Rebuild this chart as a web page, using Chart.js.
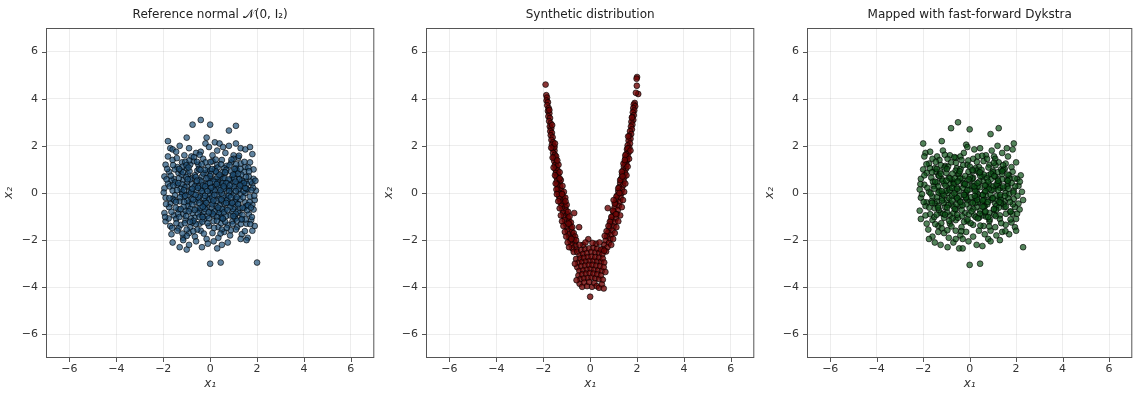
<!DOCTYPE html>
<html>
<head>
<meta charset="utf-8">
<script src="https://cdn.jsdelivr.net/npm/chart.js@4.4.1/dist/chart.umd.min.js"></script>
<style>
  body { margin: 0; background: #fff; width: 1136px; height: 393px; overflow: hidden; position: relative; }
  canvas { position: absolute; top: 0; }
</style>
</head>
<body>
<canvas id="c1" width="378" height="393" style="left:0px"></canvas>
<canvas id="c2" width="378" height="393" style="left:380px"></canvas>
<canvas id="c3" width="375" height="393" style="left:761px"></canvas>
<script>
// axis ticks shared by all three panels
const tickValues = [-6, -4, -2, 0, 2, 4, 6];
const axisMin = -7, axisMax = 7;

const panelTitles = [
  "Reference normal \u{1D4A9}(0, I\u2082)",
  "Synthetic distribution",
  "Mapped with fast-forward Dykstra"
];

// samples, [x1, x2]
const refPoints = [
  [-0.4,3.1],[-0.75,2.9],[0,2.9],[1.1,2.85],[0.8,2.65],[-0.15,2.35],[-1.0,2.35],[-1.8,2.2],[1.1,2.1],
  [-1.7,1.9],[-1.6,1.85],[-1.3,2.0],[-0.9,1.9],[-0.6,1.7],[-0.4,1.75],[-0.2,2.1],[0.2,2.15],[0.4,2.1],[0.55,1.95],
  [0.8,2.0],[1.0,1.6],[1.3,1.9],[1.5,1.85],[1.7,1.95],[1.8,1.65],[-1.1,1.6],[-0.8,1.55],[0.1,1.6],[0.3,1.8],
  [0.65,1.7],[-1.8,1.55],[1.2,1.5],[-0.05,1.95],[-1.45,1.75],
  [-1.9,1.2],[-1.6,1.4],[-1.4,1.1],[-1.2,1.3],[-1.0,1.05],[-0.7,1.35],[-0.5,1.2],[-0.3,1.45],[-0.1,1.1],[0.1,1.35],
  [0.3,1.2],[0.5,1.4],[0.7,1.15],[0.9,1.3],[1.1,1.05],[1.3,1.25],[1.5,1.1],[1.7,1.3],[1.85,1.0],[-0.85,1.2],
  [0.2,1.0],[0.6,1.05],[1.0,1.45],[-1.5,1.0],[-0.2,1.3],
  [-1.95,0.7],[-1.75,0.9],[-1.55,0.6],[-1.35,0.85],[-1.15,0.55],[-0.95,0.8],[-0.75,0.65],[-0.55,0.95],[-0.35,0.7],
  [-0.15,0.85],[0.05,0.6],[0.25,0.9],[0.45,0.7],[0.65,0.85],[0.85,0.55],[1.05,0.8],[1.25,0.6],[1.45,0.9],[1.65,0.7],
  [1.85,0.6],[-1.25,0.95],[-0.45,0.55],[0.35,0.5],[1.15,0.95],[-0.65,0.75],[0.55,0.6],[1.5,0.5],[-1.65,0.55],[0.0,0.95],[0.95,0.7],
  [-1.95,0.2],[-1.8,0.4],[-1.6,0.1],[-1.4,0.35],[-1.2,0.05],[-1.0,0.3],[-0.8,0.15],[-0.6,0.45],[-0.4,0.2],[-0.2,0.4],
  [0.0,0.1],[0.2,0.3],[0.4,0.05],[0.6,0.35],[0.8,0.2],[1.0,0.45],[1.2,0.1],[1.4,0.3],[1.6,0.15],[1.8,0.4],[1.95,0.1],
  [-1.5,0.45],[-0.9,0.05],[-0.3,0.0],[0.3,0.45],[0.9,0.0],[1.5,0.0],[-1.1,0.25],[0.1,0.25],[0.7,0.1],[-0.5,0.3],[1.3,0.4],
  [-1.9,-0.2],[-1.7,-0.45],[-1.5,-0.1],[-1.3,-0.35],[-1.1,-0.15],[-0.9,-0.4],[-0.7,-0.05],[-0.5,-0.3],[-0.3,-0.45],
  [-0.1,-0.2],[0.1,-0.4],[0.3,-0.1],[0.5,-0.35],[0.7,-0.2],[0.9,-0.45],[1.1,-0.25],[1.3,-0.05],[1.5,-0.4],[1.7,-0.15],
  [1.9,-0.3],[-1.6,-0.25],[-0.8,-0.25],[0.0,-0.05],[0.6,-0.45],[1.2,-0.45],[-0.2,-0.35],[0.4,-0.25],[1.0,-0.1],[-1.2,-0.05],[1.8,-0.5],
  [-1.95,-0.85],[-1.75,-0.6],[-1.55,-0.95],[-1.35,-0.7],[-1.15,-0.9],[-0.95,-0.55],[-0.75,-0.85],[-0.55,-0.65],[-0.35,-0.95],
  [-0.15,-0.6],[0.05,-0.8],[0.25,-0.55],[0.45,-0.9],[0.65,-0.7],[0.85,-0.95],[1.05,-0.6],[1.25,-0.85],[1.45,-0.65],
  [1.65,-0.9],[1.85,-0.7],[-1.05,-0.75],[-0.45,-0.75],[0.35,-0.7],[0.95,-0.8],[1.55,-0.55],[-1.65,-0.8],[0.15,-0.95],[-0.25,-0.8],
  [-1.9,-1.2],[-1.7,-1.4],[-1.45,-1.1],[-1.25,-1.35],[-1.05,-1.15],[-0.85,-1.45],[-0.65,-1.05],[-0.45,-1.3],[-0.25,-1.1],
  [-0.05,-1.4],[0.15,-1.2],[0.35,-1.45],[0.55,-1.1],[0.75,-1.35],[0.95,-1.2],[1.15,-1.45],[1.35,-1.1],[1.55,-1.3],
  [1.75,-1.15],[1.9,-1.4],[-1.35,-1.5],[0.45,-1.05],[1.05,-1.0],[-0.75,-1.25],
  [-1.65,-1.75],[-1.4,-1.6],[-1.15,-1.9],[-0.9,-1.7],[-0.65,-1.85],[-0.4,-1.6],[-0.15,-1.95],[0.1,-1.7],[0.35,-1.9],
  [0.6,-1.65],[0.85,-1.8],[1.1,-1.55],[1.35,-1.75],[1.6,-1.9],[1.8,-1.6],[-0.55,-1.55],[0.5,-1.55],[-1.0,-1.55],
  [-1.6,-2.1],[-1.3,-2.3],[-1.0,-2.4],[-0.9,-2.2],[-0.6,-2.05],[-0.35,-2.3],[-0.1,-2.15],[0.15,-2.05],[0.5,-2.2],
  [0.75,-2.1],[1.3,-1.95],[1.55,-2.0],[-1.15,-2.0],[0.3,-2.35],
  [0,-3.0],[0.45,-2.95],[2.0,-2.95]
];

// extra samples filling the dense middle of the cloud
const refCore = [
  [-1.72,0.28],[-1.47,-0.62],[-1.33,0.63],[-1.28,-0.18],[-1.17,1.12],[-1.08,-1.28],[-0.97,0.47],[-0.93,-0.08],
  [-0.88,0.92],[-0.84,-0.67],[-0.78,0.38],[-0.72,-1.62],[-0.69,1.52],[-0.63,-0.38],[-0.58,0.12],[-0.52,-0.87],
  [-0.48,1.02],[-0.43,-0.13],[-0.38,0.48],[-0.33,-1.22],[-0.29,0.83],[-0.24,-0.52],[-0.19,0.18],[-0.13,-0.98],
  [-0.08,0.63],[-0.03,-0.28],[0.02,1.32],[0.07,-0.63],[0.12,0.08],[0.17,-1.48],[0.22,0.58],[0.27,-0.33],[0.32,1.08],
  [0.38,-0.83],[0.42,0.33],[0.47,-1.28],[0.52,0.88],[0.57,-0.13],[0.62,0.62],[0.68,-0.98],[0.73,0.42],[0.78,-0.43],
  [0.83,1.18],[0.88,-1.58],[0.93,0.18],[0.98,-0.68],[1.03,0.62],[1.08,-1.08],[1.13,0.38],[1.18,-0.78],[1.23,1.58],
  [1.28,-0.28],[1.33,0.78],[1.38,-0.93],[1.43,0.08],[1.48,-1.62],[1.53,0.68],[1.58,-0.73],[1.63,1.08],[1.68,-0.38],
  [1.73,0.48],[1.78,-1.02],[1.83,0.22],[1.88,-0.12],[1.93,0.52],[-1.88,-0.47],[-1.83,1.02],[-1.77,-1.08],[-1.68,0.73],
  [-1.62,-1.48],[-1.57,0.32],[-1.52,-0.32],[-1.42,1.48],[-1.37,-0.88],[-1.22,0.38],[-1.13,-0.58],[-1.03,0.68],
  [-1.0,-1.82],[-0.9,1.38],[-0.82,-1.08],[-0.66,0.28],[-0.61,-1.32],[-0.45,1.62],[-0.41,-0.62],[-0.36,0.08],
  [-0.27,-1.72],[-0.22,0.98],[-0.17,-0.42],[-0.11,0.38],[-0.06,-1.08],[0.04,0.82],[0.09,-0.18],[0.14,0.48],
  [0.19,-0.78],[0.24,1.42],[0.29,-1.02],[0.36,0.22],[0.41,-0.53],[0.46,1.22],[0.51,-0.68],[0.58,0.18],[0.64,-1.22],
  [0.69,0.98],[0.74,-0.28],[0.79,0.58],[0.86,-0.58],[0.91,1.42],[0.96,-1.32],[1.01,0.28],[1.06,-0.38],[1.11,1.22],
  [1.16,-1.18],[1.21,0.18],[1.26,-0.63],[1.36,0.52],[1.41,-0.18],[1.46,1.32],[1.51,-1.12],[1.56,0.38],[1.61,-0.52],
  [1.66,0.92],[1.71,-1.32],[1.76,0.12],[-1.98,0.02],[-1.92,-1.02],[-1.86,0.58],[-1.74,-0.22],[-1.58,1.18],
  [-1.44,-1.28],[-1.26,0.18],[-1.18,-1.72],[-1.06,1.32],[-0.98,-0.32],[-0.86,0.58],[-0.76,-0.48],[-0.56,1.32],
  [-0.46,-1.02],[-0.31,0.32],[-0.21,-0.68],[-0.01,0.42],[0.11,-0.88],[0.31,0.68],[0.44,-1.72],[0.54,0.42],
  [0.71,-1.48],[0.81,0.08],[1.09,-0.88],[1.19,0.82],[1.31,-1.32],[1.54,0.18],[1.74,-0.62],
  [-1.41,0.12],[-1.31,-1.02],[-1.21,0.78],[-1.11,-0.38],[-1.01,1.18],[-0.91,-0.78],[-0.81,0.02],[-0.71,-1.18],
  [-0.61,0.68],[-0.51,-0.18],[-0.41,0.98],[-0.31,-0.58],[-0.21,0.28],[-0.11,-1.28],[-0.01,0.72],[0.09,-0.48],
  [0.19,0.12],[0.29,-1.18],[0.39,0.78],[0.49,-0.02],[0.59,-0.82],[0.69,0.42],[0.79,-0.12],[0.89,0.92],[0.99,-0.98],
  [1.09,0.08],[1.19,-0.48],[1.29,1.02],[1.39,-0.62],[1.49,0.22],[-1.46,-0.38],[-1.36,0.42],[-1.26,-0.68],
  [-1.16,0.88],[-1.06,-0.12],[-0.96,0.58],[-0.86,-1.22],[-0.76,0.18],[-0.66,-0.72],[-0.56,0.52],[-0.46,-0.42],
  [-0.36,1.22],[-0.26,-0.22],[-0.16,0.62],[-0.06,-0.82],[0.04,0.22],[0.14,-0.32],[0.24,0.92],[0.34,-0.62],
  [0.44,0.12],[0.54,-1.08],[0.64,0.88],[0.74,-0.72],[0.84,0.32],[0.94,-0.42],[1.04,1.02],[1.14,-0.18],[1.24,0.58],
  [1.34,-1.12],[1.44,0.42],[-1.32,1.02],[-1.12,0.12],[-0.92,1.08],[-0.72,-0.28],[-0.52,0.22],[-0.32,-1.02],
  [-0.12,0.08],[0.08,1.02],[0.28,0.38],[0.48,-0.28],[0.68,-0.42],[0.88,-0.18],[1.08,0.48],[1.28,0.32],[-0.62,-0.08],
  [-0.22,-0.12],[0.18,-0.08],[0.58,0.28],[-1.02,-0.98],[0.98,0.78]
];

const synthPoints = [
  // left arm
  [-1.9,4.6],[-1.87,4.15],[-1.84,4.05],[-1.86,3.92],[-1.8,3.85],[-1.83,3.72],[-1.77,3.6],[-1.8,3.48],[-1.74,3.38],
  [-1.78,3.25],[-1.71,3.18],[-1.75,3.05],[-1.68,2.95],[-1.72,2.82],[-1.66,2.74],[-1.7,2.62],[-1.63,2.55],[-1.68,2.45],
  [-1.6,2.36],[-1.65,2.25],[-1.58,2.15],[-1.63,2.05],[-1.55,1.98],[-1.6,1.88],[-1.52,1.8],[-1.58,1.7],[-1.5,1.62],
  [-1.55,1.52],[-1.46,1.45],[-1.53,1.35],[-1.44,1.28],[-1.5,1.18],[-1.42,1.1],[-1.48,1.0],[-1.38,0.95],[-1.46,0.85],
  [-1.36,0.78],[-1.44,0.68],[-1.33,0.6],[-1.42,0.5],[-1.3,0.45],[-1.4,0.35],[-1.28,0.28],[-1.38,0.18],[-1.24,0.12],
  [-1.36,0.02],[-1.2,-0.02],[-1.33,-0.12],[-1.16,-0.15],[-1.3,-0.25],[-1.14,-0.3],[-1.26,-0.4],[-1.1,-0.45],
  [-1.22,-0.55],[-1.06,-0.6],[-1.18,-0.7],[-1.02,-0.75],[-1.15,-0.85],[-0.98,-0.9],[-1.12,-1.0],[-0.95,-1.05],
  [-1.08,-1.15],[-0.9,-1.2],[-1.04,-1.3],[-0.86,-1.35],[-1.0,-1.45],[-0.82,-1.5],[-0.96,-1.6],[-0.78,-1.65],
  [-0.92,-1.75],[-0.74,-1.8],[-0.88,-1.9],[-0.7,-1.95],[-0.84,-2.05],[-0.66,-2.1],[-0.8,-2.2],[-0.62,-2.25],
  [-0.76,-2.35],[-0.58,-2.4],[-0.7,-2.5],
  [-1.52,1.95],[-1.66,1.92],[-1.45,1.55],[-1.6,1.5],[-1.35,1.2],[-1.56,1.08],[-1.3,0.88],[-1.5,0.75],[-1.25,0.55],
  [-1.47,0.4],[-1.18,0.3],[-1.44,0.15],[-1.12,0.05],[-1.42,-0.05],[-1.06,-0.2],[-1.36,-0.35],[-1.0,-0.5],[-1.3,-0.65],
  [-0.94,-0.8],[-1.25,-0.95],[-0.88,-1.0],[-1.2,-1.2],[-0.82,-1.25],[-1.14,-1.4],[-0.76,-1.45],[-1.08,-1.65],
  [-0.7,-1.7],[-1.02,-1.85],[-0.64,-1.85],[-0.96,-2.1],[-0.6,-2.0],[-0.9,-2.3],[-1.2,-0.05],[-1.3,0.62],[-1.4,1.38],
  [-1.5,2.1],[-1.62,2.88],[-1.74,3.52],[-1.05,-0.35],[-0.92,-1.3],[-0.8,-1.95],
  // right arm
  [2.0,4.92],[1.98,4.85],[1.99,4.55],[2.05,4.2],[1.95,4.25],[1.9,3.82],[1.86,3.75],[1.92,3.68],[1.84,3.6],[1.88,3.5],
  [1.82,3.42],[1.86,3.3],[1.8,3.22],[1.84,3.1],[1.76,3.02],[1.8,2.9],[1.74,2.82],[1.78,2.7],[1.7,2.62],[1.75,2.5],
  [1.67,2.42],[1.72,2.3],[1.64,2.22],[1.7,2.1],[1.6,2.02],[1.67,1.92],[1.57,1.85],[1.64,1.72],[1.54,1.65],[1.6,1.55],
  [1.51,1.48],[1.57,1.38],[1.48,1.3],[1.55,1.2],[1.44,1.12],[1.52,1.02],[1.4,0.95],[1.49,0.85],[1.36,0.78],[1.46,0.68],
  [1.32,0.6],[1.43,0.5],[1.28,0.42],[1.4,0.32],[1.24,0.25],[1.36,0.15],[1.2,0.08],[1.33,-0.02],[1.16,-0.1],[1.3,-0.2],
  [1.12,-0.28],[1.26,-0.38],[1.08,-0.45],[1.22,-0.55],[1.04,-0.62],[1.18,-0.72],[1.0,-0.8],[1.14,-0.9],[0.95,-0.98],
  [1.1,-1.08],[0.9,-1.15],[1.05,-1.25],[0.86,-1.32],[1.0,-1.42],[0.82,-1.5],[0.95,-1.6],[0.77,-1.68],[0.9,-1.78],
  [0.72,-1.85],[0.86,-1.95],[0.66,-2.02],[0.8,-2.12],[0.6,-2.2],[0.74,-2.3],[0.54,-2.38],[0.68,-2.48],
  [1.6,1.9],[1.72,1.8],[1.5,1.6],[1.66,1.45],[1.42,1.25],[1.6,1.12],[1.35,0.9],[1.55,0.75],[1.28,0.55],[1.5,0.4],
  [1.2,0.2],[1.45,0.05],[1.12,-0.15],[1.4,-0.3],[1.05,-0.45],[1.35,-0.6],[0.97,-0.75],[1.28,-0.95],[0.9,-1.02],
  [1.2,-1.2],[0.84,-1.22],[1.12,-1.45],[0.78,-1.4],[1.05,-1.7],[0.7,-1.62],[0.98,-1.95],[0.62,-1.82],[0.9,-2.2],
  [1.25,0.0],[1.38,0.7],[1.48,1.4],[1.62,2.4],[1.78,3.2],[0.75,-0.64],[1.0,-0.3],[1.1,-0.9],
  // bottom of the V
  [-0.55,-2.5],[-0.45,-2.65],[-0.38,-2.42],[-0.3,-2.58],[-0.22,-2.38],[-0.14,-2.55],[-0.05,-2.35],[0.05,-2.5],
  [0.14,-2.32],[0.22,-2.52],[0.3,-2.36],[0.38,-2.55],[0.46,-2.4],[0.52,-2.6],[0.6,-2.45],
  [-0.6,-2.8],[-0.5,-2.95],[-0.42,-2.78],[-0.34,-2.92],[-0.26,-2.75],[-0.18,-2.9],[-0.1,-2.72],[-0.02,-2.88],
  [0.06,-2.7],[0.14,-2.88],[0.22,-2.72],[0.3,-2.9],[0.38,-2.74],[0.46,-2.92],[0.54,-2.78],[0.6,-2.95],
  [-0.55,-3.15],[-0.46,-3.3],[-0.38,-3.1],[-0.3,-3.28],[-0.22,-3.08],[-0.14,-3.25],[-0.06,-3.05],[0.02,-3.22],
  [0.1,-3.05],[0.18,-3.25],[0.26,-3.08],[0.34,-3.28],[0.42,-3.1],[0.5,-3.3],[0.58,-3.15],
  [-0.5,-3.5],[-0.42,-3.65],[-0.34,-3.45],[-0.26,-3.62],[-0.18,-3.42],[-0.1,-3.6],[-0.02,-3.4],[0.06,-3.58],
  [0.14,-3.42],[0.22,-3.62],[0.3,-3.45],[0.38,-3.65],[0.46,-3.5],[0.54,-3.68],
  [-0.45,-3.85],[-0.34,-3.98],[-0.25,-3.8],[-0.13,-3.95],[-0.04,-3.78],[0.08,-3.98],[0.18,-3.82],[0.28,-3.95],
  [0.38,-4.02],[0.5,-3.88],
  [0.0,-4.4],[-0.47,-1.45],[-0.08,-1.96],[-0.68,-0.85],[-0.3,-2.2],[0.25,-2.15],[0.4,-2.1],[-0.45,-2.2],
  [-0.65,-3.0],[0.65,-3.35],[-0.58,-3.7],[0.58,-4.05],[-0.2,-2.1],[0.1,-2.12]
];

const mappedPoints = [
  [-0.5,3.0],[-0.8,2.75],[0,2.7],[1.25,2.75],[0.9,2.5],[-0.15,2.05],[-1.2,2.2],[-2.0,2.1],[1.9,2.1],[-0.1,1.95],
  [-1.9,1.7],[1.6,1.9],
  [-1.7,1.75],[-1.4,1.55],[-1.15,1.8],[-0.85,1.6],[-0.6,1.5],[-0.4,1.55],[0.2,1.85],[0.45,1.9],[0.7,1.6],[0.95,1.8],
  [1.2,2.0],[1.4,1.7],[1.85,1.85],[1.05,1.55],[0.35,1.55],[-0.25,1.7],[1.65,1.55],[-1.95,1.55],
  [-2.0,1.0],[-1.75,1.25],[-1.5,1.05],[-1.3,1.4],[-1.05,1.15],[-0.8,1.3],[-0.55,1.05],[-0.35,1.4],[-0.1,1.2],
  [0.15,1.45],[0.4,1.1],[0.6,1.35],[0.85,1.2],[1.1,1.45],[1.35,1.0],[1.55,1.25],[1.8,1.1],[2.0,1.3],[-0.95,1.45],
  [0.25,1.05],[0.75,1.45],[1.25,1.3],[-1.6,1.45],
  [-2.1,0.6],[-1.85,0.85],[-1.65,0.65],[-1.45,0.9],[-1.2,0.6],[-1.0,0.85],[-0.75,0.55],[-0.5,0.8],[-0.3,0.6],
  [-0.05,0.9],[0.15,0.65],[0.4,0.85],[0.6,0.5],[0.8,0.75],[1.0,0.95],[1.2,0.6],[1.4,0.8],[1.6,0.55],[1.85,0.9],
  [2.05,0.6],[2.2,0.75],[-0.9,0.65],[0.3,0.95],[1.1,0.7],[-1.35,0.75],[0.0,0.55],[0.55,0.7],[1.7,0.75],[-0.6,0.95],
  [-2.15,0.15],[-1.95,0.35],[-1.75,0.05],[-1.55,0.3],[-1.3,0.1],[-1.1,0.4],[-0.9,0.2],[-0.7,0.45],[-0.45,0.1],
  [-0.25,0.35],[0.0,0.15],[0.2,0.4],[0.45,0.25],[0.65,0.05],[0.85,0.35],[1.05,0.15],[1.25,0.45],[1.45,0.2],
  [1.65,0.4],[1.9,0.1],[2.1,0.3],[2.25,0.05],[-1.4,0.45],[-0.55,0.25],[0.3,0.05],[1.15,0.3],[-0.15,0.0],[0.75,0.2],
  [1.55,0.0],[-0.95,0.0],[0.1,0.3],
  [-2.1,-0.2],[-1.85,-0.4],[-1.6,-0.15],[-1.4,-0.35],[-1.2,-0.05],[-1.0,-0.3],[-0.8,-0.45],[-0.6,-0.15],[-0.4,-0.35],
  [-0.2,-0.1],[0.05,-0.4],[0.25,-0.2],[0.5,-0.45],[0.7,-0.1],[0.9,-0.3],[1.1,-0.45],[1.3,-0.15],[1.5,-0.35],
  [1.7,-0.05],[1.9,-0.25],[2.1,-0.45],[2.3,-0.3],[-0.5,-0.3],[0.35,-0.05],[1.2,-0.3],[-1.5,-0.45],[0.6,-0.3],[-0.1,-0.3],
  [-2.15,-0.75],[-1.9,-0.55],[-1.7,-0.9],[-1.5,-0.65],[-1.25,-0.85],[-1.05,-0.6],[-0.85,-0.95],[-0.6,-0.7],
  [-0.4,-0.55],[-0.2,-0.85],[0.0,-0.65],[0.2,-0.95],[0.45,-0.75],[0.65,-0.55],[0.85,-0.85],[1.05,-0.7],[1.3,-0.95],
  [1.5,-0.6],[1.75,-0.8],[1.95,-0.6],[2.15,-0.7],[-0.7,-0.85],[0.3,-0.6],[1.15,-0.55],[-1.35,-0.55],[0.55,-0.95],
  [-2.1,-1.1],[-1.85,-1.3],[-1.6,-1.15],[-1.35,-1.4],[-1.1,-1.05],[-0.85,-1.3],[-0.6,-1.15],[-0.35,-1.45],
  [-0.1,-1.2],[0.15,-1.35],[0.4,-1.05],[0.6,-1.4],[0.85,-1.2],[1.1,-1.45],[1.3,-1.1],[1.55,-1.35],[1.8,-1.25],
  [2.0,-1.1],[-0.5,-1.05],[0.7,-1.0],[1.95,-1.45],[-1.2,-1.5],
  [-1.6,-1.85],[-1.35,-1.65],[-1.1,-1.7],[-0.9,-1.9],[-0.6,-1.6],[-0.4,-1.8],[-0.15,-1.65],[0.15,-1.85],[0.4,-1.6],
  [0.65,-1.75],[0.9,-1.6],[1.15,-1.8],[1.4,-1.65],[1.7,-1.75],[2.0,-1.6],[-0.3,-1.95],[0.8,-1.95],
  [-1.75,-1.95],[-1.5,-2.1],[-1.25,-2.2],[-0.95,-2.3],[-0.7,-2.1],[-0.45,-2.35],[-0.3,-2.35],[-0.05,-2.05],
  [0.3,-2.2],[0.55,-2.25],[0.9,-2.05],[1.3,-2.0],[-0.6,-1.95],
  [0,-3.05],[0.45,-3.0],[2.3,-2.3]
];

const mappedCore = [
  [-2.05,-0.05],[-1.95,0.75],[-1.9,-0.95],[-1.82,0.22],[-1.78,-1.55],[-1.71,1.05],[-1.64,-0.35],[-1.58,0.48],
  [-1.52,-1.02],[-1.46,1.32],[-1.41,-0.18],[-1.36,0.28],[-1.32,-0.72],[-1.27,0.92],[-1.22,-1.28],[-1.16,0.52],
  [-1.12,-0.42],[-1.07,1.62],[-1.02,0.08],[-0.97,-0.82],[-0.93,1.12],[-0.88,-0.22],[-0.83,0.38],[-0.78,-1.42],
  [-0.74,0.82],[-0.69,-0.58],[-0.64,0.12],[-0.59,1.28],[-0.54,-0.92],[-0.49,0.52],[-0.44,-0.12],[-0.39,1.02],
  [-0.34,-0.72],[-0.29,0.22],[-0.24,-1.22],[-0.19,0.72],[-0.14,-0.48],[-0.09,0.32],[-0.04,-0.92],[0.01,1.12],
  [0.06,-0.18],[0.11,0.62],[0.16,-0.68],[0.21,0.18],[0.26,-1.02],[0.31,1.32],[0.36,-0.38],[0.41,0.48],[0.46,-1.38],
  [0.51,0.98],[0.56,-0.08],[0.61,0.78],[0.66,-0.82],[0.71,0.32],[0.76,-0.48],[0.81,1.08],[0.86,-1.12],[0.91,0.58],
  [0.96,-0.22],[1.01,0.28],[1.06,-0.92],[1.11,1.18],[1.16,-0.12],[1.21,0.88],[1.26,-0.62],[1.31,0.22],[1.36,-1.28],
  [1.41,0.58],[1.46,-0.48],[1.51,1.02],[1.56,-0.88],[1.61,0.28],[1.66,-0.22],[1.71,0.62],[1.76,-1.12],[1.81,0.42],
  [1.86,-0.48],[1.96,0.28],[2.06,-0.12],[2.16,0.48],[-2.12,0.38],[-1.98,-0.38],[-1.86,1.22],[-1.74,-0.62],
  [-1.62,0.88],[-1.48,-1.32],[-1.34,0.02],[-1.24,1.18],[-1.14,-0.88],[-1.04,0.32],[-0.96,-1.58],[-0.86,0.62],
  [-0.76,-0.12],[-0.66,1.52],[-0.56,-0.48],[-0.46,0.82],[-0.36,-1.62],[-0.26,0.42],[-0.16,-0.22],[-0.06,1.38],
  [0.04,-1.28],[0.14,0.92],[0.24,-0.42],[0.34,0.28],[0.44,-0.88],[0.54,1.58],[0.64,-0.28],[0.74,0.62],[0.84,-1.42],
  [0.94,0.12],[1.04,1.28],[1.14,-0.72],[1.24,0.42],[1.34,-0.28],[1.44,1.18],[1.54,-1.62],[1.64,0.78],[1.74,-0.38],
  [1.84,-0.88],[1.94,0.62],[2.04,-0.88],[-1.68,-0.02],[-1.18,-0.22],[-0.68,0.38],[-0.18,0.02],[0.32,-0.18],
  [0.82,0.18],[1.32,-0.08],[-0.42,0.62],[0.62,-0.58],[-0.92,-0.52],
  [-1.52,0.18],[-1.42,-0.92],[-1.31,0.72],[-1.19,-0.32],[-1.08,1.08],[-0.97,-0.62],[-0.86,0.12],[-0.75,-1.08],
  [-0.64,0.62],[-0.53,-0.22],[-0.42,0.92],[-0.31,-0.52],[-0.2,0.38],[-0.09,-1.12],[0.02,0.68],[0.13,-0.42],
  [0.24,0.08],[0.35,-1.08],[0.46,0.72],[0.57,-0.08],[0.68,-0.78],[0.79,0.48],[0.9,-0.08],[1.01,0.88],[1.12,-0.98],
  [1.23,0.12],[1.34,-0.42],[1.45,0.98],[1.56,-0.58],[1.67,0.18],[-1.62,-0.42],[-1.48,0.48],[-1.36,-0.62],
  [-1.24,0.82],[-1.12,-0.08],[-1.0,0.52],[-0.88,-1.18],[-0.76,0.22],[-0.64,-0.68],[-0.52,0.48],[-0.4,-0.38],
  [-0.28,1.18],[-0.16,-0.18],[-0.04,0.58],[0.08,-0.78],[0.2,0.28],[0.32,-0.28],[0.44,0.88],[0.56,-0.58],[0.68,0.08],
  [0.8,-1.02],[0.92,0.82],[1.04,-0.68],[1.16,0.38],[1.28,-0.38],[1.4,0.92],[1.52,-0.12],[1.64,0.52],[1.76,-0.78],
  [1.88,0.02],[-1.42,1.02],[-1.2,0.08],[-0.98,1.02],[-0.76,-0.32],[-0.54,0.18],[-0.32,-0.98],[-0.1,0.12],[0.12,0.98],
  [0.34,0.42],[0.56,-0.32],[0.78,-0.38],[1.0,-0.22],[1.22,0.52],[1.44,0.28],[-0.66,-0.02],[-0.24,-0.08],[0.22,-0.12],
  [0.66,0.32],[-1.06,-0.92],[1.06,0.72]
];

const panelColors = [
  "rgba(30, 80, 120, 0.7)",
  "rgba(110, 5, 5, 0.8)",
  "rgba(12, 80, 22, 0.7)"
];

// frame, tick marks and panel title
const framePlugin = {
  id: "frame",
  afterDraw(chart, args, opts) {
    const { ctx, chartArea: a, scales } = chart;
    ctx.save();
    ctx.strokeStyle = "#555";
    ctx.lineWidth = 1;
    ctx.strokeRect(a.left + 0.5, a.top + 0.5, a.right - a.left - 1, a.bottom - a.top - 1);
    ctx.beginPath();
    tickValues.forEach(v => {
      const x = Math.round(scales.x.getPixelForValue(v)) + 0.5;
      ctx.moveTo(x, a.bottom);
      ctx.lineTo(x, a.bottom + 4);
      const y = Math.round(scales.y.getPixelForValue(v)) + 0.5;
      ctx.moveTo(a.left, y);
      ctx.lineTo(a.left - 4, y);
    });
    ctx.stroke();
    ctx.font = '12px "DejaVu Sans"';
    ctx.fillStyle = "#222";
    ctx.textAlign = "center";
    ctx.textBaseline = "middle";
    ctx.fillText(opts.text, (a.left + a.right) / 2, 15);
    ctx.restore();
  }
};

function fmt(v) {
  return v < 0 ? "\u2212" + Math.abs(v) : String(v);
}

function axis(titleText, isX) {
  return {
    type: "linear",
    min: axisMin,
    max: axisMax,
    afterBuildTicks: s => { s.ticks = tickValues.map(v => ({ value: v })); },
    afterFit: s => { if (isX) s.height = 35; else s.width = 46; },
    grid: { color: "rgba(0,0,0,0.09)", lineWidth: 0.8, drawTicks: false },
    border: { display: false },
    ticks: {
      padding: isX ? 5 : 8,
      color: "#333",
      font: { family: "DejaVu Sans", size: 11 },
      callback: v => fmt(v),
      maxRotation: 0
    },
    title: {
      display: true,
      text: titleText,
      color: "#333",
      padding: { top: 2, bottom: 2 },
      font: { family: "DejaVu Sans", size: 12, style: "italic" }
    }
  };
}

function makePanel(id, points, color, title, rightPad) {
  new Chart(document.getElementById(id), {
    type: "scatter",
    data: {
      datasets: [{
        data: points.map(p => ({ x: p[0], y: p[1] })),
        backgroundColor: color,
        borderColor: "rgba(0,0,0,0.8)",
        borderWidth: 0.8,
        pointRadius: 2.9,
        pointHoverRadius: 2.9
      }]
    },
    options: {
      responsive: false,
      animation: false,
      layout: { padding: { top: 28, right: rightPad, left: 0, bottom: 0 } },
      plugins: {
        legend: { display: false },
        tooltip: { enabled: false },
        frame: { text: title }
      },
      scales: {
        x: axis("x\u2081", true),
        y: axis("x\u2082", false)
      }
    },
    plugins: [framePlugin]
  });
}

makePanel("c1", refPoints.concat(refCore), panelColors[0], panelTitles[0], 2);
makePanel("c2", synthPoints, panelColors[1], panelTitles[1], 2);
makePanel("c3", mappedPoints.concat(mappedCore), panelColors[2], panelTitles[2], 0);
</script>
</body>
</html>
